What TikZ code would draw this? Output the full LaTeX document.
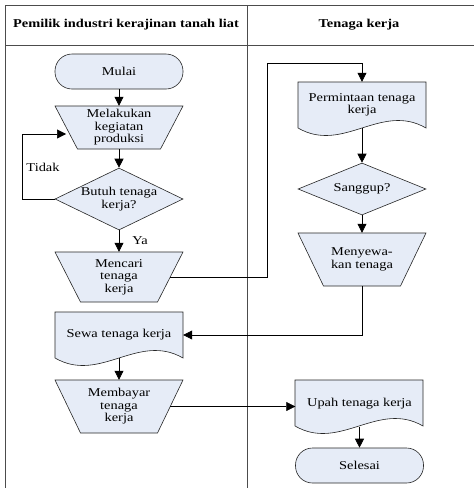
\documentclass[tikz,border=0pt]{standalone}
\usepackage{fontspec}
\setmainfont[FakeStretch=1.2]{Liberation Serif}
\usetikzlibrary{shapes,arrows.meta,calc}
\definecolor{boxfill}{RGB}{230,236,247}
\newcommand{\flowfont}{\fontsize{12}{12.5}\selectfont}
\tikzstyle{terminal}=[rectangle,rounded corners=17pt,draw=black!85,line width=0.6pt,fill=boxfill,minimum width=128pt,minimum height=35pt,inner sep=0pt,font=\flowfont]
\tikzstyle{manualop}=[rectangle,minimum width=102.5pt,inner sep=0pt,align=center,font=\flowfont]
\tikzstyle{decision}=[diamond,aspect=2.06,draw=black!85,line width=0.6pt,fill=boxfill,minimum width=128pt,minimum height=62pt,inner sep=0pt,align=center,font=\flowfont]
\tikzstyle{docnode}=[rectangle,minimum width=128pt,minimum height=46pt,inner sep=0pt,align=center,font=\flowfont]
\tikzstyle{outline}=[draw=black!85,line width=0.6pt,fill=boxfill]
\tikzstyle{edge}=[draw,line width=0.6pt,-{Triangle[length=9pt,width=9pt]}]
\tikzstyle{lane}=[draw=black!70,line width=1pt]
\tikzstyle{header}=[font=\flowfont\bfseries]

\begin{document}
\begin{tikzpicture}[x=1pt,y=-1pt]

    \useasboundingbox (0,0) rectangle (474,488);

    % Swimlanes
    \draw[lane] (5,488) -- (5,5) -- (474,5);
    \draw[lane] (5,45) -- (474,45);
    \draw[lane] (247,5) -- (247,488);
    \node[header] (ownerhead) at (126,25) {Pemilik industri kerajinan tanah liat};
    \node[header] (workerhead) at (359,25) {Tenaga kerja};

    % Document shapes first, text goes on top
    \foreach \x/\y in {298/82, 55/312, 295/380}
        \path[outline] (\x,\y) -- ({\x+128},\y) -- ({\x+128},{\y+46})
            .. controls ({\x+83},{\y+20}) and ({\x+45},{\y+72}) .. (\x,{\y+46}) -- cycle;

    % Manual operation shapes (centre x / top / bottom / half bottom width)
    \foreach \cx/\top/\bot/\hw in {119/106/149/41.5, 119/252/302/38.5, 362/233/286/38.5, 119/380/433/38.5}
        \path[outline] ({\cx-64},\top) -- ({\cx+64},\top) -- ({\cx+\hw},\bot) -- ({\cx-\hw},\bot) -- cycle;

    % Left lane
    \node[terminal] (mulai) at (119,71.5) {Mulai};
    \node[manualop,minimum width=105.5pt,minimum height=43pt] (produksi) at (119,127.5) {Melakukan\\kegiatan\\produksi};
    \node[decision] (butuh) at (119,199) {Butuh tenaga\\kerja?};
    \node[manualop,minimum height=50pt] (mencari) at (119,277) {Mencari\\tenaga\\kerja};
    \node[docnode] (sewa) at (119,335) {Sewa tenaga kerja};
    \node[manualop,minimum height=53pt] (membayar) at (119,406.5) {Membayar\\tenaga\\kerja};

    % Right lane
    \node[docnode] (permintaan) at (362,105) {Permintaan tenaga\\kerja};
    \node[decision,aspect=2.46,minimum height=52pt] (sanggup) at (362,189) {Sanggup?};
    \node[manualop,minimum height=53pt] (menyewa) at (362,259.5) {Menyewa-\\kan tenaga};
    \node[docnode] (upah) at (359.5,403.5) {Upah tenaga kerja};
    \node[terminal] (selesai) at (359.5,465.5) {Selesai};

    % Connectors
    \foreach \source/\dest in {mulai/produksi, produksi/butuh, butuh/mencari, permintaan/sanggup, sanggup/menyewa, sewa/membayar, upah/selesai}
        \path[edge] (\source.south) -- (\dest.north);
    \path[edge] (butuh.west) -- ++(-32,0) |- ($(produksi.west)+(0,6.5)$);
    \path[edge] (mencari.east) -| (267,63) -| (permintaan.north);
    \path[edge] (menyewa.south) |- (sewa.east);
    \path[edge] (membayar.east) -- (membayar.east -| upah.west);

    \node[font=\flowfont] (tidak) at (43,167) {Tidak};
    \node[font=\flowfont] (ya) at (140,241) {Ya};

\end{tikzpicture}
\end{document}
